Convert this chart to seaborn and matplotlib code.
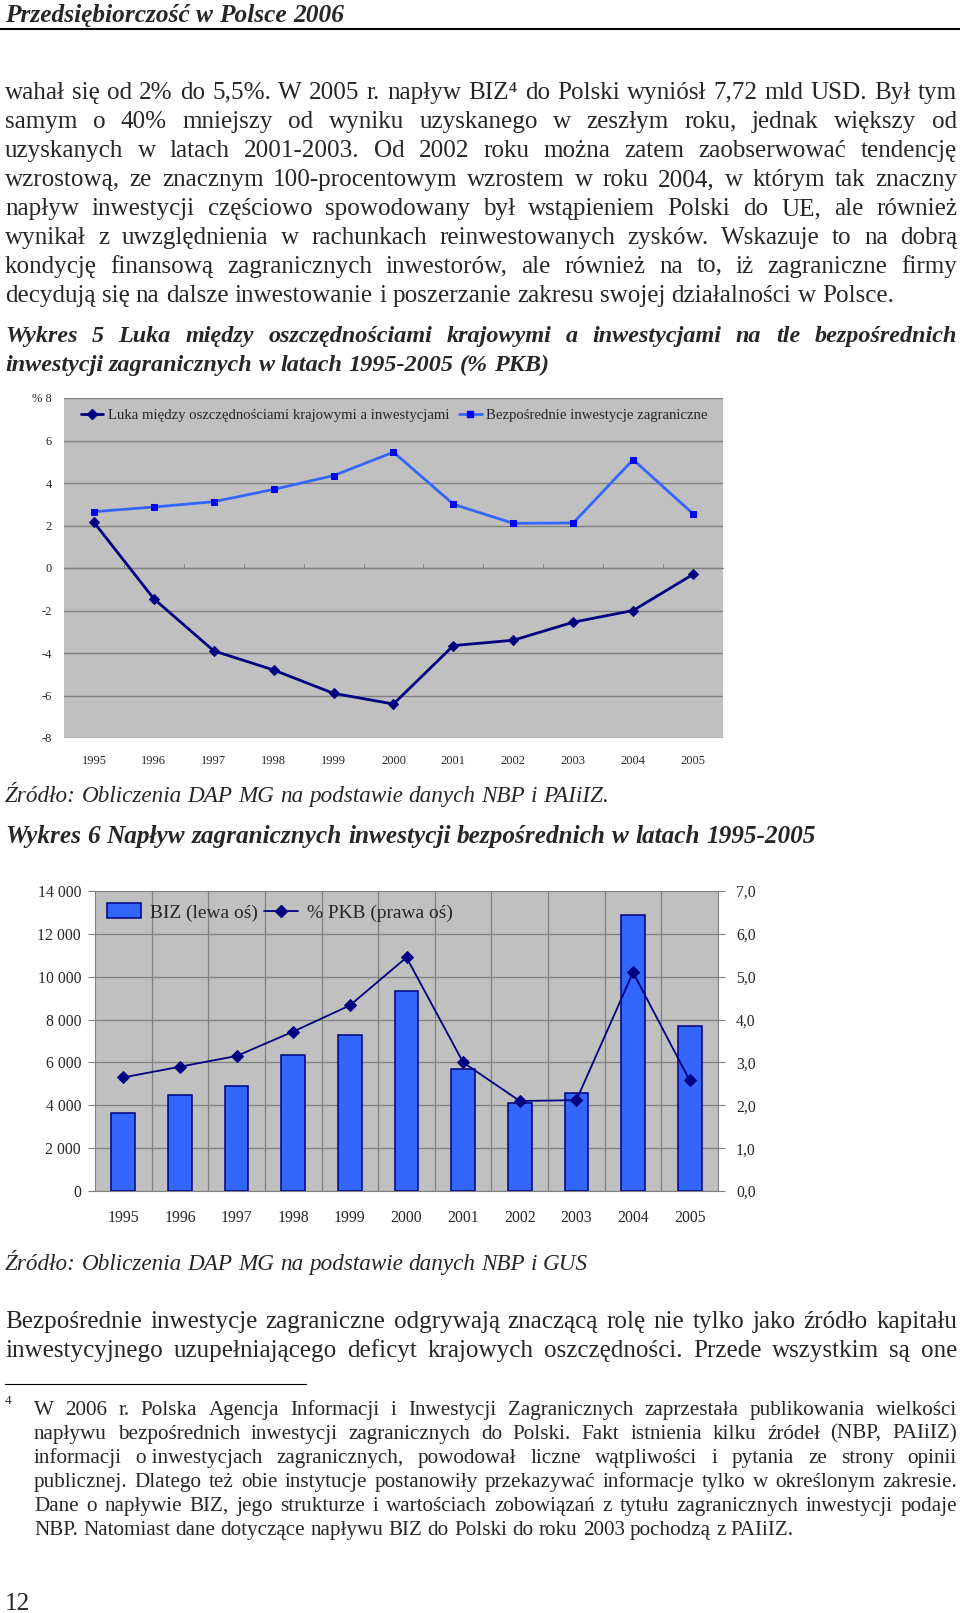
import numpy as np
import pandas as pd
import matplotlib
matplotlib.use("Agg")
import matplotlib.pyplot as plt
import seaborn as sns
from matplotlib.lines import Line2D
from matplotlib.patches import Patch

# ---------------- data ----------------
years = ['1995', '1996', '1997', '1998', '1999', '2000', '2001', '2002', '2003', '2004', '2005']
luka_pct = [2.15, -1.45, -3.9, -4.8, -5.9, -6.4, -3.65, -3.4, -2.55, -2.0, -0.3]
biz_pct_w5 = [2.65, 2.87, 3.12, 3.7, 4.35, 5.45, 3.0, 2.1, 2.12, 5.1, 2.55]
biz_usd = [3650, 4480, 4900, 6360, 7300, 9340, 5710, 4130, 4590, 12870, 7720]
biz_pct_w6 = [2.65, 2.9, 3.15, 3.72, 4.33, 5.45, 3.0, 2.1, 2.12, 5.1, 2.58]

w5_yticks = [-8, -6, -4, -2, 0, 2, 4, 6, 8]
w5_ylabels = ['-8', '-6', '-4', '-2', '0', '2', '4', '6', '% 8']
w6_lticks = [0, 2000, 4000, 6000, 8000, 10000, 12000, 14000]
w6_llabels = ['0', '2 000', '4 000', '6 000', '8 000', '10 000', '12 000', '14 000']
w6_rticks = [0, 1, 2, 3, 4, 5, 6, 7]
w6_rlabels = ['0,0', '1,0', '2,0', '3,0', '4,0', '5,0', '6,0', '7,0']

w5_legend = ['Luka między oszczędnościami krajowymi a inwestycjami',
             'Bezpośrednie inwestycje zagraniczne']
w6_legend = ['BIZ (lewa oś)', '% PKB (prawa oś)']

header = 'Przedsiębiorczość w Polsce 2006'
para1 = [
    'wahał się od 2% do 5,5%. W 2005 r. napływ BIZ⁴ do Polski wyniósł 7,72 mld USD. Był tym',
    'samym o 40% mniejszy od wyniku uzyskanego w zeszłym roku, jednak większy od',
    'uzyskanych w latach 2001-2003. Od 2002 roku można zatem zaobserwować tendencję',
    'wzrostową, ze znacznym 100-procentowym wzrostem w roku 2004, w którym tak znaczny',
    'napływ inwestycji częściowo spowodowany był wstąpieniem Polski do UE, ale również',
    'wynikał z uwzględnienia w rachunkach reinwestowanych zysków. Wskazuje to na dobrą',
    'kondycję finansową zagranicznych inwestorów, ale również na to, iż zagraniczne firmy',
    'decydują się na dalsze inwestowanie i poszerzanie zakresu swojej działalności w Polsce.',
]
title5 = ['Wykres 5 Luka między oszczędnościami krajowymi a inwestycjami na tle bezpośrednich',
          'inwestycji zagranicznych w latach 1995-2005 (% PKB)']
source5 = 'Źródło: Obliczenia DAP MG na podstawie danych NBP i PAIiIZ.'
title6 = 'Wykres 6 Napływ zagranicznych inwestycji bezpośrednich w latach 1995-2005'
source6 = 'Źródło: Obliczenia DAP MG na podstawie danych NBP i GUS'
para2 = [
    'Bezpośrednie inwestycje zagraniczne odgrywają znaczącą rolę nie tylko jako źródło kapitału',
    'inwestycyjnego uzupełniającego deficyt krajowych oszczędności. Przede wszystkim są one',
]
footnote = [
    'W 2006 r. Polska Agencja Informacji i Inwestycji Zagranicznych zaprzestała publikowania wielkości',
    'napływu bezpośrednich inwestycji zagranicznych do Polski. Fakt istnienia kilku źródeł (NBP, PAIiIZ)',
    'informacji o\u00a0inwestycjach zagranicznych, powodował liczne wątpliwości i pytania ze strony opinii',
    'publicznej. Dlatego też obie instytucje postanowiły przekazywać informacje tylko w określonym zakresie.',
    'Dane o napływie BIZ, jego strukturze i wartościach zobowiązań z tytułu zagranicznych inwestycji podaje',
    'NBP. Natomiast dane dotyczące napływu BIZ do Polski do roku 2003 pochodzą z PAIiIZ.',
]
page_no = '12'

# ---------------- setup ----------------
sns.set_style('white')
SERIF = ['Liberation Serif', 'DejaVu Serif']
plt.rcParams['font.family'] = SERIF

W, H = 960, 1613
fig = plt.figure(figsize=(W / 100, H / 100), dpi=100)
fig.patch.set_facecolor('white')
renderer = fig.canvas.get_renderer()


def fx(x):
    return x / W


def fy(y):
    return 1 - y / H


def tw(s, size, style='normal', weight='normal'):
    t = fig.text(0, 0, s, fontsize=size, family=SERIF, style=style, weight=weight)
    w = t.get_window_extent(renderer=renderer).width
    t.remove()
    return w


def fit(s, width, **kw):
    return 20 * width / tw(s, 20, **kw)


def text_line(s, x0, x1, yc, size, justify=False, style='normal', weight='normal'):
    words = s.split(' ')
    widths = [tw(w, size, style, weight) for w in words]
    if justify and len(words) > 1:
        gap = (x1 - x0 - sum(widths)) / (len(words) - 1)
    else:
        gap = tw('a a', size, style, weight) - tw('aa', size, style, weight)
    px = size * 100 / 72
    yb = yc + 0.33 * px
    x = x0
    for w, wd in zip(words, widths):
        fig.text(fx(x), fy(yb), w, fontsize=size, family=SERIF, style=style,
                 weight=weight, ha='left', va='baseline')
        x += wd + gap


# ---------------- page text ----------------
hs = fit(header, 340, style='italic', weight='bold')
text_line(header, 5, 960, 13.5, hs, style='italic', weight='bold')
fig.add_artist(Line2D([0, 1], [fy(29)] * 2, transform=fig.transFigure, color='black', lw=1.5))

ps = fit(para1[-1], 892)
p1_y = [90.5, 119.3, 148.2, 178.0, 206.8, 235.6, 264.4, 293.2]
for i, (s, y) in enumerate(zip(para1, p1_y)):
    text_line(s, 5, 957, y, ps, justify=(i < len(para1) - 1))

t5s = fit(title5[1], 542, style='italic', weight='bold')
text_line(title5[0], 5, 957, 334.4, t5s, justify=True, style='italic', weight='bold')
text_line(title5[1], 5, 957, 363.2, t5s, style='italic', weight='bold')

ss = (fit(source5, 603, style='italic') + fit(source6, 582, style='italic')) / 2
text_line(source5, 5, 957, 794.2, ss, style='italic')

t6s = fit(title6, 808, style='italic', weight='bold')
text_line(title6, 5, 957, 834.4, t6s, style='italic', weight='bold')

text_line(source6, 5, 957, 1262.3, ss, style='italic')

for s, y in zip(para2, [1320.0, 1348.8]):
    text_line(s, 5, 957, y, ps, justify=True)

fig.add_artist(Line2D([fx(5), fx(306)], [fy(1383.7)] * 2, transform=fig.transFigure,
                      color='black', lw=0.8))
fs = fit(footnote[-1], 758)
fig.text(fx(5), fy(1404), '4', fontsize=fs * 0.62, family=SERIF, ha='left', va='baseline')
f_y = [1408.4, 1432.0, 1455.7, 1480.5, 1504.0, 1527.8]
for i, (s, y) in enumerate(zip(footnote, f_y)):
    text_line(s, 34, 957, y, fs, justify=(i < len(footnote) - 1))

text_line(page_no, 5, 957, 1602, ps)

# ---------------- Wykres 5 ----------------
n = len(years)
pos = np.arange(n)
GRID = '#808080'
BG = '#c0c0c0'
NAVY = '#000080'
BLUE = '#3366ff'

ax1 = fig.add_axes([fx(64), fy(738), (723 - 64) / W, (738 - 398) / H])
ax1.set_facecolor(BG)
df1 = pd.DataFrame({'pos': pos, 'luka': luka_pct, 'biz': biz_pct_w5})
sns.lineplot(data=df1, x='pos', y='biz', ax=ax1, color=BLUE, lw=2, marker='s',
             markersize=5, markerfacecolor='#0000ff', markeredgecolor='#0000ff', zorder=3)
sns.lineplot(data=df1, x='pos', y='luka', ax=ax1, color=NAVY, lw=2, marker='D',
             markersize=5, markerfacecolor=NAVY, markeredgecolor=NAVY, zorder=3)
ax1.set_xlim(-0.5, n - 0.5)
ax1.set_ylim(-8, 8)
ax1.set_yticks(w5_yticks)
small1 = fit('1995', 25)
ax1.set_yticklabels(w5_ylabels, fontsize=small1)
ax1.set_xticks(pos)
ax1.set_xticklabels(years, fontsize=small1)
ax1.tick_params(axis='x', length=0, pad=12)
ax1.tick_params(axis='y', length=3, color=GRID, pad=6)
ax1.yaxis.grid(True, color=GRID, lw=1)
ax1.xaxis.grid(False)
ax1.set_axisbelow(True)
for sp in ax1.spines.values():
    sp.set_visible(False)
ax1.set_xlabel('')
ax1.set_ylabel('')
sec = ax1.secondary_xaxis(0.5)
sec.set_xticks(pos[:-1] + 0.5)
sec.set_xticklabels([])
sec.tick_params(length=3, color=GRID, direction='out')
for sp in sec.spines.values():
    sp.set_color(GRID)

lg1 = fit(w5_legend[0], 342)
h1 = [Line2D([], [], color=NAVY, lw=2, marker='D', ms=5, mfc=NAVY, mec=NAVY),
      Line2D([], [], color=BLUE, lw=2, marker='s', ms=5, mfc='#0000ff', mec='#0000ff')]
ax1.legend(h1, w5_legend, loc='center left', bbox_to_anchor=(fx(81), fy(415.6)),
           bbox_transform=fig.transFigure, ncol=2, frameon=False, fontsize=lg1,
           handlelength=1.5, handletextpad=0.3, columnspacing=0.7,
           borderpad=0, borderaxespad=0)

# ---------------- Wykres 6 ----------------
ax2 = fig.add_axes([fx(95), fy(1191), (718 - 95) / W, (1191 - 891) / H])
ax2.set_facecolor(BG)
df2 = pd.DataFrame({'year': years, 'biz': biz_usd, 'pct': biz_pct_w6, 'pos': pos})
sns.barplot(data=df2, x='year', y='biz', ax=ax2, color=BLUE, edgecolor=NAVY,
            linewidth=1.1, width=0.42, saturation=1, zorder=3)
ax2.set_xlim(-0.5, n - 0.5)
ax2.set_ylim(0, 14000)
ax2.set_yticks(w6_lticks)
small2 = fit('14 000', 43)
ax2.set_yticklabels(w6_llabels, fontsize=small2)
ax2.set_xticks(pos)
ax2.set_xticklabels(years, fontsize=small2)
ax2.set_xticks(pos[:-1] + 0.5, minor=True)
ax2.tick_params(axis='x', which='major', length=0, pad=14)
ax2.tick_params(axis='x', which='minor', length=5, color=GRID, direction='out')
ax2.tick_params(axis='y', length=5, color=GRID, pad=5)
ax2.yaxis.grid(True, color=GRID, lw=0.9)
ax2.xaxis.grid(True, which='minor', color=GRID, lw=0.9)
ax2.xaxis.grid(False, which='major')
ax2.set_axisbelow(True)
ax2.set_xlabel('')
ax2.set_ylabel('')
ax2.spines['top'].set_visible(False)
ax2.spines['right'].set_visible(False)
ax2.spines['left'].set_color(GRID)
ax2.spines['bottom'].set_color(GRID)

ax2b = ax2.twinx()
sns.lineplot(data=df2, x='pos', y='pct', ax=ax2b, color=NAVY, lw=1.3, marker='D',
             markersize=6, markerfacecolor=NAVY, markeredgecolor=NAVY, zorder=4)
ax2b.set_xlim(-0.5, n - 0.5)
ax2b.set_ylim(0, 7)
ax2b.set_yticks(w6_rticks)
ax2b.set_yticklabels(w6_rlabels, fontsize=small2)
ax2b.tick_params(axis='y', length=5, color=GRID, pad=8)
ax2b.set_ylabel('')
ax2b.grid(False)
for k in ['top', 'left', 'bottom']:
    ax2b.spines[k].set_visible(False)
ax2b.spines['right'].set_color(GRID)

lg2 = fit(w6_legend[1], 146)
h2 = [Patch(facecolor=BLUE, edgecolor=NAVY, lw=1.1),
      Line2D([], [], color=NAVY, lw=1.3, marker='D', ms=6, mfc=NAVY, mec=NAVY)]
ax2b.legend(h2, w6_legend, loc='center left', bbox_to_anchor=(fx(107), fy(912.6)),
            bbox_transform=fig.transFigure, ncol=2, frameon=False, fontsize=lg2,
            handlelength=1.75, handleheight=0.8, handletextpad=0.45, columnspacing=0.35,
            borderpad=0, borderaxespad=0)

fig.savefig('out.png', dpi=100)
